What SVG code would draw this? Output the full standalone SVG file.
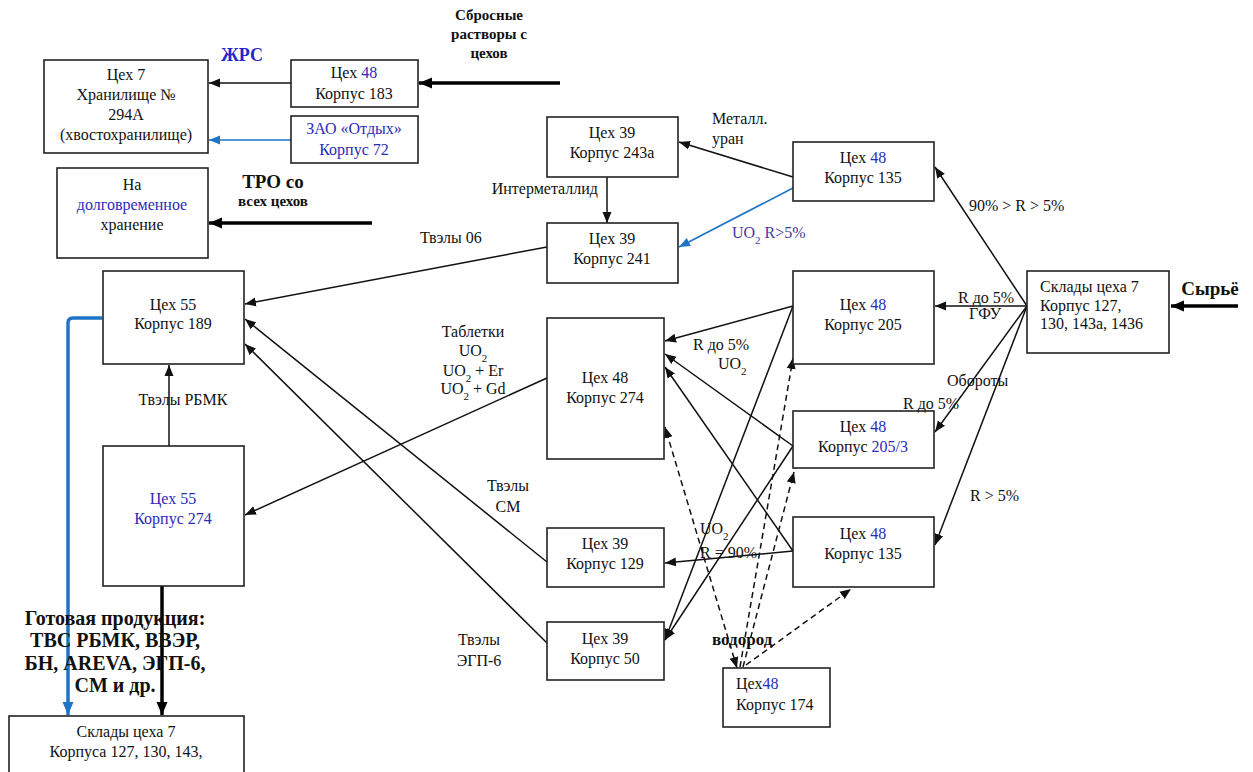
<svg xmlns="http://www.w3.org/2000/svg" width="1253" height="772" viewBox="0 0 1253 772">
<style>
text{font-family:"Liberation Serif","Times New Roman",serif;font-size:16px;fill:#111}
.c{text-anchor:middle}
.b{fill:#2b2bb8}
.bold{font-weight:bold}
.box{fill:#fff;stroke:#222;stroke-width:1.6}
.ln{stroke:#111;stroke-width:1.5;fill:none}
.thk{stroke:#000;stroke-width:3.5;fill:none}
.blu{stroke:#1f74c6;stroke-width:1.6;fill:none}
.bluT{stroke:#1f74c6;stroke-width:3.5;fill:none}
.dsh{stroke:#111;stroke-width:1.5;fill:none;stroke-dasharray:6 4}
.sub{font-size:11px}
</style>
<defs>
<marker id="a" markerUnits="userSpaceOnUse" markerWidth="12" markerHeight="10" refX="11" refY="5" orient="auto-start-reverse"><path d="M0,0.5 L11,5 L0,9.5 Z" fill="#111"/></marker>
<marker id="ab" markerUnits="userSpaceOnUse" markerWidth="12" markerHeight="10" refX="11" refY="5" orient="auto"><path d="M0,0.5 L11,5 L0,9.5 Z" fill="#1f74c6"/></marker>
<marker id="at" markerUnits="userSpaceOnUse" markerWidth="14" markerHeight="12" refX="13" refY="6" orient="auto"><path d="M0,0.5 L13,6 L0,11.5 Z" fill="#000"/></marker>
<marker id="atb" markerUnits="userSpaceOnUse" markerWidth="14" markerHeight="12" refX="13" refY="6" orient="auto"><path d="M0,0.5 L13,6 L0,11.5 Z" fill="#1f74c6"/></marker>
</defs>

<g id="connectors">
<line class="ln" x1="291" y1="83" x2="209" y2="83" marker-end="url(#a)"/>
<line class="thk" x1="560" y1="83" x2="419" y2="83" marker-end="url(#at)"/>
<line class="blu" x1="291" y1="140" x2="209" y2="140" marker-end="url(#ab)"/>
<line class="thk" x1="372" y1="223" x2="209" y2="223" marker-end="url(#at)"/>
<line class="ln" x1="607" y1="177" x2="607" y2="223" marker-end="url(#a)"/>
<line class="ln" x1="793" y1="177" x2="679" y2="142" marker-end="url(#a)"/>
<line class="blu" x1="793" y1="188" x2="679" y2="247" marker-end="url(#ab)"/>
<line class="ln" x1="547" y1="247" x2="245" y2="304" marker-end="url(#a)"/>
<line class="ln" x1="1027" y1="306" x2="935" y2="167" marker-end="url(#a)"/>
<line class="ln" x1="1027" y1="306" x2="935" y2="306" marker-end="url(#a)"/>
<line class="ln" x1="1027" y1="306" x2="935" y2="432" marker-end="url(#a)"/>
<line class="ln" x1="1027" y1="306" x2="935" y2="545" marker-end="url(#a)"/>
<line class="thk" x1="1238" y1="306" x2="1171" y2="306" marker-end="url(#at)"/>
<line class="ln" x1="793" y1="306" x2="665" y2="341" marker-end="url(#a)"/>
<line class="ln" x1="793" y1="446" x2="665" y2="354" marker-end="url(#a)"/>
<line class="ln" x1="793" y1="551" x2="665" y2="367" marker-end="url(#a)"/>
<line class="ln" x1="793" y1="306" x2="665" y2="640" marker-end="url(#a)"/>
<line class="ln" x1="793" y1="446" x2="665" y2="640" marker-end="url(#a)"/>
<line class="ln" x1="793" y1="551" x2="665" y2="563" marker-end="url(#a)"/>
<line class="ln" x1="547" y1="378" x2="245" y2="515" marker-end="url(#a)"/>
<line class="ln" x1="547" y1="562" x2="245" y2="319" marker-end="url(#a)"/>
<line class="ln" x1="547" y1="643" x2="245" y2="344" marker-end="url(#a)"/>
<line class="ln" x1="169" y1="446" x2="169" y2="365" marker-end="url(#a)"/>
<path class="bluT" d="M102,318 H73 Q68,318 68,323 V715" marker-end="url(#atb)"/>
<line class="thk" x1="162" y1="586" x2="162" y2="715" marker-end="url(#at)"/>
<line class="dsh" x1="737" y1="668" x2="665" y2="427" marker-start="url(#a)" marker-end="url(#a)"/>
<line class="dsh" x1="740" y1="667" x2="793" y2="358" marker-end="url(#a)"/>
<line class="dsh" x1="743" y1="667" x2="794" y2="472" marker-end="url(#a)"/>
<line class="dsh" x1="746" y1="665" x2="851" y2="589" marker-end="url(#a)"/>
</g>

<g id="n-c7">
<rect class="box" x="44" y="60" width="164" height="93"/>
<text class="c" x="126" y="80">Цех 7</text>
<text class="c" x="126" y="100">Хранилище №</text>
<text class="c" x="126" y="120">294А</text>
<text class="c" x="126" y="140">(хвостохранилище)</text>
</g>
<g id="n-183">
<rect class="box" x="291" y="60" width="127" height="47"/>
<text class="c" x="354" y="78">Цех <tspan class="b">48</tspan></text>
<text class="c" x="354" y="99">Корпус 183</text>
</g>
<g id="n-72">
<rect class="box" x="291" y="116" width="127" height="47"/>
<text class="c b" x="354" y="134">ЗАО «Отдых»</text>
<text class="c b" x="354" y="155">Корпус 72</text>
</g>
<g id="n-hold">
<rect class="box" x="57" y="168" width="151" height="90"/>
<text class="c" x="132" y="190">На</text>
<text class="c b" x="132" y="210">долговременное</text>
<text class="c" x="132" y="230">хранение</text>
</g>
<g id="n-243a">
<rect class="box" x="547" y="117" width="131" height="60"/>
<text class="c" x="612" y="138">Цех 39</text>
<text class="c" x="612" y="158">Корпус 243а</text>
</g>
<g id="n-241">
<rect class="box" x="547" y="223" width="131" height="60"/>
<text class="c" x="612" y="244">Цех 39</text>
<text class="c" x="612" y="264">Корпус 241</text>
</g>
<g id="n-135a">
<rect class="box" x="793" y="142" width="141" height="59"/>
<text class="c" x="863" y="163">Цех <tspan class="b">48</tspan></text>
<text class="c" x="863" y="183">Корпус 135</text>
</g>
<g id="n-205">
<rect class="box" x="793" y="271" width="141" height="93"/>
<text class="c" x="863" y="310">Цех <tspan class="b">48</tspan></text>
<text class="c" x="863" y="330">Корпус 205</text>
</g>
<g id="n-sklad">
<rect class="box" x="1027" y="271" width="142" height="82"/>
<text x="1040" y="292">Склады цеха 7</text>
<text x="1040" y="311">Корпус 127,</text>
<text x="1040" y="329">130, 143а, 1436</text>
</g>
<g id="n-189">
<rect class="box" x="103" y="271" width="141" height="93"/>
<text class="c" x="173" y="310">Цех 55</text>
<text class="c" x="173" y="329">Корпус 189</text>
</g>
<g id="n-274">
<rect class="box" x="547" y="318" width="117" height="141"/>
<text class="c" x="605" y="383">Цех 48</text>
<text class="c" x="605" y="403">Корпус 274</text>
</g>
<g id="n-2053">
<rect class="box" x="793" y="411" width="141" height="57"/>
<text class="c" x="863" y="432">Цех <tspan class="b">48</tspan></text>
<text class="c" x="863" y="452">Корпус <tspan class="b">205/3</tspan></text>
</g>
<g id="n-55-274">
<rect class="box" x="103" y="446" width="141" height="140"/>
<text class="c b" x="173" y="504">Цех 55</text>
<text class="c b" x="173" y="524">Корпус 274</text>
</g>
<g id="n-129">
<rect class="box" x="547" y="528" width="117" height="59"/>
<text class="c" x="605" y="549">Цех 39</text>
<text class="c" x="605" y="569">Корпус 129</text>
</g>
<g id="n-135b">
<rect class="box" x="793" y="517" width="141" height="70"/>
<text class="c" x="863" y="539">Цех <tspan class="b">48</tspan></text>
<text class="c" x="863" y="559">Корпус 135</text>
</g>
<g id="n-50">
<rect class="box" x="547" y="622" width="117" height="58"/>
<text class="c" x="605" y="644">Цех 39</text>
<text class="c" x="605" y="664">Корпус 50</text>
</g>
<g id="n-174">
<rect class="box" x="723" y="668" width="107" height="59"/>
<text x="736" y="689">Цех<tspan class="b">48</tspan></text>
<text x="736" y="710">Корпус 174</text>
</g>
<g id="n-sklad2">
<rect class="box" x="9" y="716" width="235" height="70"/>
<text class="c" x="126" y="737">Склады цеха 7</text>
<text class="c" x="126" y="757">Корпуса 127, 130, 143,</text>
</g>

<g id="labels">
<text class="bold" x="221" y="61" style="font-size:18px;fill:#2626c8">ЖРС</text>
<text class="c bold" x="489" y="20" style="font-size:15px">Сбросные</text>
<text class="c bold" x="489" y="39" style="font-size:15px">растворы с</text>
<text class="c bold" x="489" y="58" style="font-size:15px">цехов</text>
<text class="c bold" x="273" y="188" style="font-size:19px">ТРО со</text>
<text class="c bold" x="273" y="206" style="font-size:15px">всех цехов</text>
<text x="420" y="243">Твэлы 06</text>
<text x="598" y="194" style="text-anchor:end">Интерметаллид</text>
<text x="712" y="124">Металл.</text>
<text x="712" y="144">уран</text>
<text x="732" y="238" style="fill:#4536a8">UO<tspan baseline-shift="sub" class="sub">2</tspan> R&gt;5%</text>
<text x="969" y="211">90% &gt; R &gt; 5%</text>
<text x="958" y="303">R до 5%</text>
<text class="c" x="985" y="319">ГФУ</text>
<text x="947" y="386">Обороты</text>
<text x="903" y="409">R до 5%</text>
<text x="970" y="501">R &gt; 5%</text>
<text class="c bold" x="1210" y="295" style="font-size:19px">Сырьё</text>
<text class="c" x="183" y="405">Твэлы РБМК</text>
<text class="c" x="473" y="337">Таблетки</text>
<text class="c" x="473" y="356">UO<tspan baseline-shift="sub" class="sub">2</tspan></text>
<text class="c" x="473" y="376">UO<tspan baseline-shift="sub" class="sub">2</tspan> + Er</text>
<text class="c" x="473" y="394">UO<tspan baseline-shift="sub" class="sub">2</tspan> + Gd</text>
<text x="693" y="350">R до 5%</text>
<text x="718" y="369">UO<tspan baseline-shift="sub" class="sub">2</tspan></text>
<text class="c" x="508" y="491">Твэлы</text>
<text class="c" x="508" y="512">СМ</text>
<text x="700" y="534">UO<tspan baseline-shift="sub" class="sub">2</tspan></text>
<text x="700" y="558">R = 90%</text>
<text class="c" x="479" y="645">Твэлы</text>
<text class="c" x="479" y="666">ЭГП-6</text>
<text class="bold" x="712" y="645" style="font-size:17px">водород</text>
<text class="c bold" x="115" y="625" style="font-size:20px">Готовая продукция:</text>
<text class="c bold" x="115" y="647" style="font-size:20px">ТВС РБМК, ВВЭР,</text>
<text class="c bold" x="115" y="670" style="font-size:20px">БН, AREVA, ЭГП-6,</text>
<text class="c bold" x="115" y="692" style="font-size:20px">СМ и др.</text>
</g>
</svg>
